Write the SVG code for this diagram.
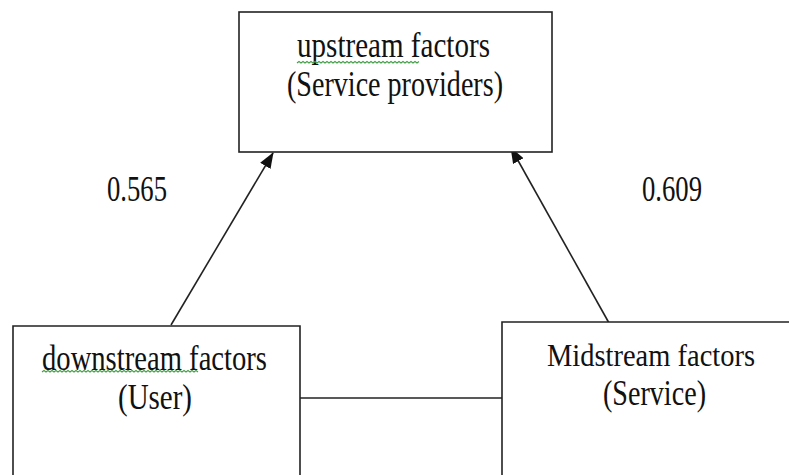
<svg xmlns="http://www.w3.org/2000/svg" width="789" height="475" viewBox="0 0 789 475">
  <style>
    .box { fill: #ffffff; stroke: #222222; stroke-width: 1.6; }
    .lbl { font-family: "Liberation Serif", "Times New Roman", serif; font-size: 36px; fill: #111111; }
    .lbl.narrow { font-size: 32px; }
    .edge { fill: none; stroke: #222222; stroke-width: 1.6; }
    .squiggle { fill: none; stroke: #43a047; stroke-width: 1.1; }
  </style>
  <defs>
    <marker id="arrow" viewBox="0 0 16 12" refX="15" refY="6" markerWidth="16" markerHeight="12" markerUnits="userSpaceOnUse" orient="auto">
      <path d="M0,0 L16,6 L0,12 Z" fill="#111111"/>
    </marker>
  </defs>
  <rect width="789" height="475" fill="#ffffff"/>

  <g id="connectors">
    <line class="edge" x1="171" y1="325" x2="273" y2="153" marker-end="url(#arrow)"/>
    <line class="edge" x1="609" y1="323" x2="511" y2="148" marker-end="url(#arrow)"/>
    <line class="edge" x1="300" y1="398" x2="502" y2="398"/>
  </g>

  <g id="upstream">
    <rect class="box" x="239" y="12" width="313" height="140"/>
    <text class="lbl" x="297" y="57" textLength="193" lengthAdjust="spacingAndGlyphs">upstream factors</text>
    <text class="lbl" x="287" y="96" textLength="216" lengthAdjust="spacingAndGlyphs">(Service providers)</text>
    <path class="squiggle" d="M297,63 l2,-1.5 l2,1.5 l2,-1.5 l2,1.5 l2,-1.5 l2,1.5 l2,-1.5 l2,1.5 l2,-1.5 l2,1.5 l2,-1.5 l2,1.5 l2,-1.5 l2,1.5 l2,-1.5 l2,1.5 l2,-1.5 l2,1.5 l2,-1.5 l2,1.5 l2,-1.5 l2,1.5 l2,-1.5 l2,1.5 l2,-1.5 l2,1.5 l2,-1.5 l2,1.5 l2,-1.5 l2,1.5 l2,-1.5 l2,1.5 l2,-1.5 l2,1.5 l2,-1.5 l2,1.5 l2,-1.5 l2,1.5 l2,-1.5 l2,1.5 l2,-1.5 l2,1.5 l2,-1.5 l2,1.5 l2,-1.5 l2,1.5 l2,-1.5 l2,1.5 l2,-1.5 l2,1.5 l2,-1.5 l2,1.5 l2,-1.5 l2,1.5 l2,-1.5 l2,1.5 l2,-1.5 l2,1.5 l2,-1.5 l2,1.5 l2,-1.5"/>
  </g>

  <g id="downstream">
    <path class="box" d="M13,475 V326 H300 V475"/>
    <text class="lbl" x="42" y="370" textLength="225" lengthAdjust="spacingAndGlyphs">downstream factors</text>
    <text class="lbl" x="118" y="409" textLength="74" lengthAdjust="spacingAndGlyphs">(User)</text>
    <path class="squiggle" d="M42,372 l2,-1.5 l2,1.5 l2,-1.5 l2,1.5 l2,-1.5 l2,1.5 l2,-1.5 l2,1.5 l2,-1.5 l2,1.5 l2,-1.5 l2,1.5 l2,-1.5 l2,1.5 l2,-1.5 l2,1.5 l2,-1.5 l2,1.5 l2,-1.5 l2,1.5 l2,-1.5 l2,1.5 l2,-1.5 l2,1.5 l2,-1.5 l2,1.5 l2,-1.5 l2,1.5 l2,-1.5 l2,1.5 l2,-1.5 l2,1.5 l2,-1.5 l2,1.5 l2,-1.5 l2,1.5 l2,-1.5 l2,1.5 l2,-1.5 l2,1.5 l2,-1.5 l2,1.5 l2,-1.5 l2,1.5 l2,-1.5 l2,1.5 l2,-1.5 l2,1.5 l2,-1.5 l2,1.5 l2,-1.5 l2,1.5 l2,-1.5 l2,1.5 l2,-1.5 l2,1.5 l2,-1.5 l2,1.5 l2,-1.5 l2,1.5 l2,-1.5 l2,1.5 l2,-1.5 l2,1.5 l2,-1.5 l2,1.5 l2,-1.5 l2,1.5 l2,-1.5 l2,1.5 l2,-1.5 l2,1.5 l2,-1.5 l2,1.5 l2,-1.5 l2,1.5 l2,-1.5 l2,1.5"/>
  </g>

  <g id="midstream">
    <path class="box" d="M789,322 H502 V475"/>
    <text class="lbl narrow" x="547" y="366" textLength="208" lengthAdjust="spacingAndGlyphs">Midstream factors</text>
    <text class="lbl" x="603" y="405" textLength="103" lengthAdjust="spacingAndGlyphs">(Service)</text>
  </g>

  <g id="weights">
    <text class="lbl" x="107" y="201" textLength="60" lengthAdjust="spacingAndGlyphs">0.565</text>
    <text class="lbl" x="642" y="201" textLength="60" lengthAdjust="spacingAndGlyphs">0.609</text>
  </g>
</svg>
